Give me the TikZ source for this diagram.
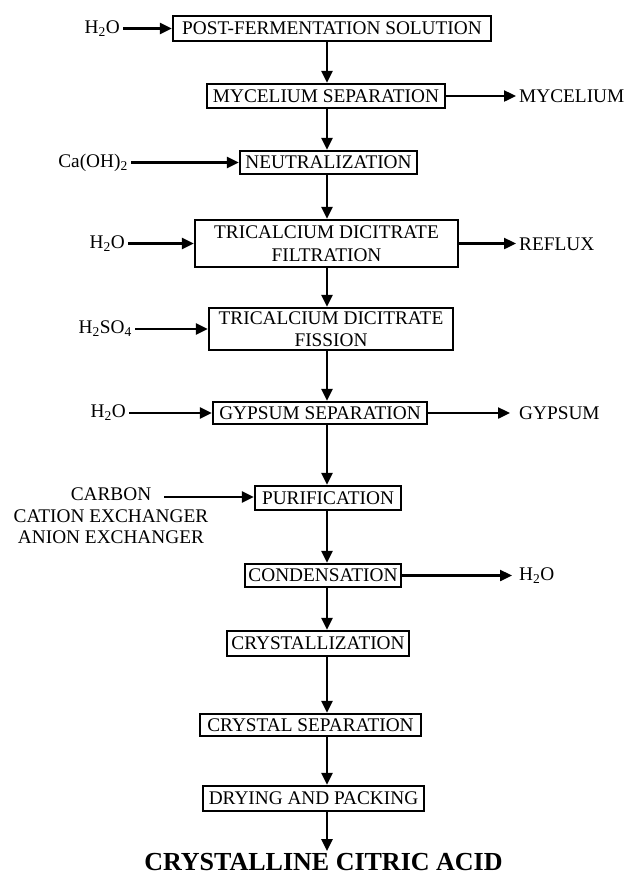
\documentclass[tikz,border=0pt]{standalone}
\usepackage{fontspec}
\setmainfont{Liberation Serif}
\usetikzlibrary{arrows.meta}

\begin{document}
\begin{tikzpicture}[x=1pt,y=-1pt,
    stage/.style={draw,line width=2.2pt,inner xsep=1pt,inner ysep=1pt,
      align=center,font=\fontsize{19.3}{22.5}\selectfont},
    feed/.style={inner sep=3pt,align=center,font=\fontsize{19.3}{21.5}\selectfont},
    flow/.style={line width=2.4pt,-{Triangle[length=12pt,width=11pt]}}]
	    \useasboundingbox (0,0) rectangle (627,879);

	    % The main line that all downward arrows follow
	    \coordinate (spine) at (327,0);

	    % Draw the process stages
	    \node [stage,minimum width=318pt,minimum height=25pt] (fermsol) at (332,28.5) {POST-FERMENTATION SOLUTION};
	    \node [stage,minimum width=238pt,minimum height=24pt] (mycsep) at (326,96) {MYCELIUM SEPARATION};
	    \node [stage,minimum width=177pt,minimum height=23pt] (neutral) at (328.5,162.5) {NEUTRALIZATION};
	    \node [stage,minimum width=263pt,minimum height=47pt] (filtr) at (326.5,243.5) {TRICALCIUM DICITRATE\\FILTRATION};
	    \node [stage,minimum width=244pt,minimum height=42pt] (fission) at (331,329) {TRICALCIUM DICITRATE\\FISSION};
	    \node [stage,minimum width=214pt,minimum height=22pt] (gypsep) at (320,413) {GYPSUM SEPARATION};
	    \node [stage,minimum width=146pt,minimum height=24pt] (purif) at (328,498) {PURIFICATION};
	    \node [stage,minimum width=156pt,minimum height=23pt] (condens) at (323,575.5) {CONDENSATION};
	    \node [stage,minimum width=182pt,minimum height=25pt] (cryst) at (318,643.5) {CRYSTALLIZATION};
	    \node [stage,minimum width=221pt,minimum height=22pt] (crysep) at (310.5,725) {CRYSTAL SEPARATION};
	    \node [stage,minimum width=221pt,minimum height=25pt] (drying) at (313.5,798.5) {DRYING AND PACKING};

	    % And the product at the bottom
	    \node [inner sep=2pt,font=\fontsize{26}{28}\selectfont\bfseries] (product) at (323.5,862) {CRYSTALLINE CITRIC ACID};

	    % Draw the downward flow between stages
	    \foreach \from/\to in {fermsol/mycsep,mycsep/neutral,neutral/filtr,filtr/fission,
	      fission/gypsep,gypsep/purif,purif/condens,condens/cryst,cryst/crysep,crysep/drying}
	        \draw [flow] (\from.south -| spine) -- (\to.north -| spine);
	    \draw [flow] (drying.south -| spine) -- (product.north -| spine);

	    % Streams going in on the left
	    \node [feed,anchor=east] (h2oA) at (123,29) {H\textsubscript{2}O};
	    \node [feed,anchor=east] (caoh) at (131,163) {Ca(OH)\textsubscript{2}};
	    \node [feed,anchor=east] (h2oB) at (128,244) {H\textsubscript{2}O};
	    \node [feed,anchor=east] (h2so) at (135,329) {H\textsubscript{2}SO\textsubscript{4}};
	    \node [feed,anchor=east] (h2oC) at (129,413) {H\textsubscript{2}O};
	    \node [feed] (sorbents) at (111,516) {CARBON\\CATION EXCHANGER\\ANION EXCHANGER};
	    \coordinate (sorbents end) at (164,497);

	    \draw [flow] (h2oA.east |- fermsol) -- (fermsol);
	    \draw [flow] (caoh.east |- neutral) -- (neutral);
	    \draw [flow] (h2oB.east |- filtr) -- (filtr);
	    \draw [flow] (h2so.east |- fission) -- (fission);
	    \draw [flow] (h2oC.east |- gypsep) -- (gypsep);
	    \draw [flow] (sorbents end) -- (sorbents end -| purif.west);

	    % Streams going out on the right
	    \node [feed,anchor=west] (mycel) at (516,96) {MYCELIUM};
	    \node [feed,anchor=west] (reflux) at (516,244) {REFLUX};
	    \node [feed,anchor=west,inner xsep=9pt] (gypsum) at (510,413) {GYPSUM};
	    \node [feed,anchor=west,inner xsep=7pt] (h2oD) at (512,576) {H\textsubscript{2}O};

	    \draw [flow] (mycsep) -- (mycsep -| mycel.west);
	    \draw [flow] (filtr) -- (filtr -| reflux.west);
	    \draw [flow] (gypsep) -- (gypsep -| gypsum.west);
	    \draw [flow] (condens) -- (condens -| h2oD.west);
	\end{tikzpicture}
\end{document}
